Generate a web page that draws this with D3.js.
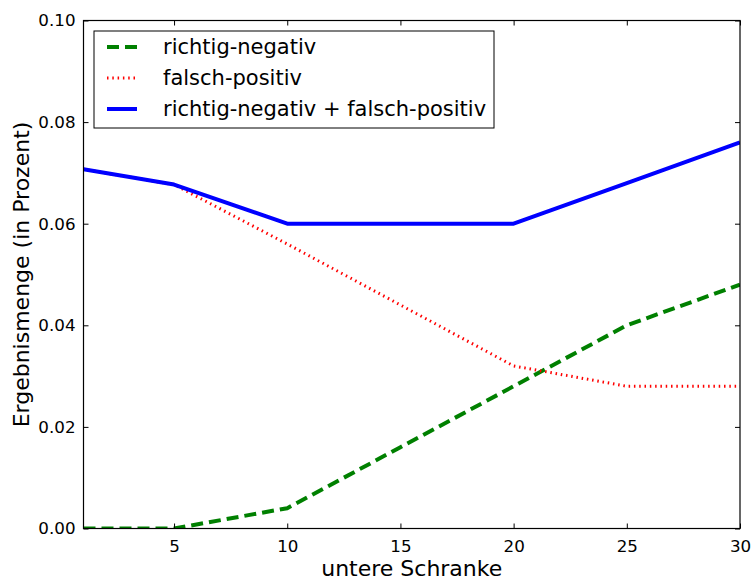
<!DOCTYPE html>
<html>
<head>
<meta charset="utf-8">
<script src="https://cdn.jsdelivr.net/npm/d3@7"></script>
<style>
  html, body { margin: 0; padding: 0; background: #fff; }
  svg { display: block; font-family: "DejaVu Sans", sans-serif; }
</style>
</head>
<body>
<script>
// Schranken (x) and result shares per series
const schranken = [1, 5, 10, 15, 20, 25, 30];
const richtigNegativ = [0.0, 0.0, 0.004, 0.016, 0.028, 0.040, 0.048];
const falschPositiv = [0.0707, 0.0677, 0.056, 0.044, 0.032, 0.028, 0.028];
const summe = [0.0707, 0.0677, 0.060, 0.060, 0.060, 0.068, 0.076];
const xTicks = [5, 10, 15, 20, 25, 30];
const yTicks = [0.00, 0.02, 0.04, 0.06, 0.08, 0.10];
const seriesNames = ["richtig-negativ", "falsch-positiv", "richtig-negativ + falsch-positiv"];

const W = 752, H = 580;
const m = { left: 83.5, right: 12, top: 20.5, bottom: 51.5 };
const pw = W - m.left - m.right, ph = H - m.top - m.bottom;

const svg = d3.select("body").append("svg").attr("width", W).attr("height", H);
const g = svg.append("g").attr("transform", `translate(${m.left},${m.top})`);

const x = d3.scaleLinear().domain([1, 30]).range([0, pw]);
const y = d3.scaleLinear().domain([0, 0.10]).range([ph, 0]);

const clip = svg.append("defs").append("clipPath").attr("id", "plot");
clip.append("rect").attr("width", pw).attr("height", ph);

const series = [
  { name: seriesNames[0], values: richtigNegativ, color: "#008000", width: 4, dash: "12,6" },
  { name: seriesNames[1], values: falschPositiv, color: "#ff0000", width: 3, dash: "1.5,3.8" },
  { name: seriesNames[2], values: summe, color: "#0000ff", width: 4, dash: null }
];

const line = d3.line().x((d, i) => x(schranken[i])).y(d => y(d));
const lines = g.append("g").attr("clip-path", "url(#plot)");
series.forEach(s => {
  lines.append("path")
    .datum(s.values)
    .attr("d", line)
    .attr("fill", "none")
    .attr("stroke", s.color)
    .attr("stroke-width", s.width)
    .attr("stroke-dasharray", s.dash)
    .attr("stroke-linejoin", "round");
});

// Axes with inward ticks on all four sides
const fmt = d3.format(".2f");
const tickLen = 5;
const axB = g.append("g").attr("transform", `translate(0,${ph})`)
  .call(d3.axisBottom(x).tickValues(xTicks).tickSizeInner(-tickLen).tickSizeOuter(0).tickPadding(12));
const axT = g.append("g")
  .call(d3.axisTop(x).tickValues(xTicks).tickSizeInner(-tickLen).tickSizeOuter(0).tickFormat(""));
const axL = g.append("g")
  .call(d3.axisLeft(y).tickValues(yTicks).tickFormat(fmt).tickSizeInner(-tickLen).tickSizeOuter(0).tickPadding(8));
const axR = g.append("g").attr("transform", `translate(${pw},0)`)
  .call(d3.axisRight(y).tickValues(yTicks).tickSizeInner(-tickLen).tickSizeOuter(0).tickFormat(""));
[axB, axT, axL, axR].forEach(a => {
  a.select(".domain").remove();
  a.selectAll("line").attr("stroke", "#000").attr("stroke-width", 1);
  a.selectAll("text").attr("font-size", "16.7px").attr("fill", "#000")
    .attr("font-family", "DejaVu Sans, sans-serif");
});

// Frame
g.append("rect").attr("width", pw).attr("height", ph)
  .attr("fill", "none").attr("stroke", "#000").attr("stroke-width", 1.2);

// Axis titles
svg.append("text")
  .attr("x", m.left + pw / 2).attr("y", 576)
  .attr("text-anchor", "middle").attr("font-size", "22px")
  .text("untere Schranke");
svg.append("text")
  .attr("transform", `translate(29,${m.top + ph / 2}) rotate(-90)`)
  .attr("text-anchor", "middle").attr("font-size", "22px")
  .text("Ergebnismenge (in Prozent)");

// Legend
const lg = g.append("g").attr("transform", `translate(${94 - m.left},${31 - m.top})`);
lg.append("rect").attr("width", 400).attr("height", 97)
  .attr("fill", "#fff").attr("stroke", "#000").attr("stroke-width", 1);
series.forEach((s, i) => {
  const yy = 16 + i * 31;
  lg.append("line")
    .attr("x1", 13).attr("x2", 43).attr("y1", yy).attr("y2", yy)
    .attr("stroke", s.color).attr("stroke-width", s.width)
    .attr("stroke-dasharray", s.dash);
  lg.append("text")
    .attr("x", 69).attr("y", yy).attr("dy", "0.35em")
    .attr("font-size", "21px")
    .text(s.name);
});
</script>
</body>
</html>
